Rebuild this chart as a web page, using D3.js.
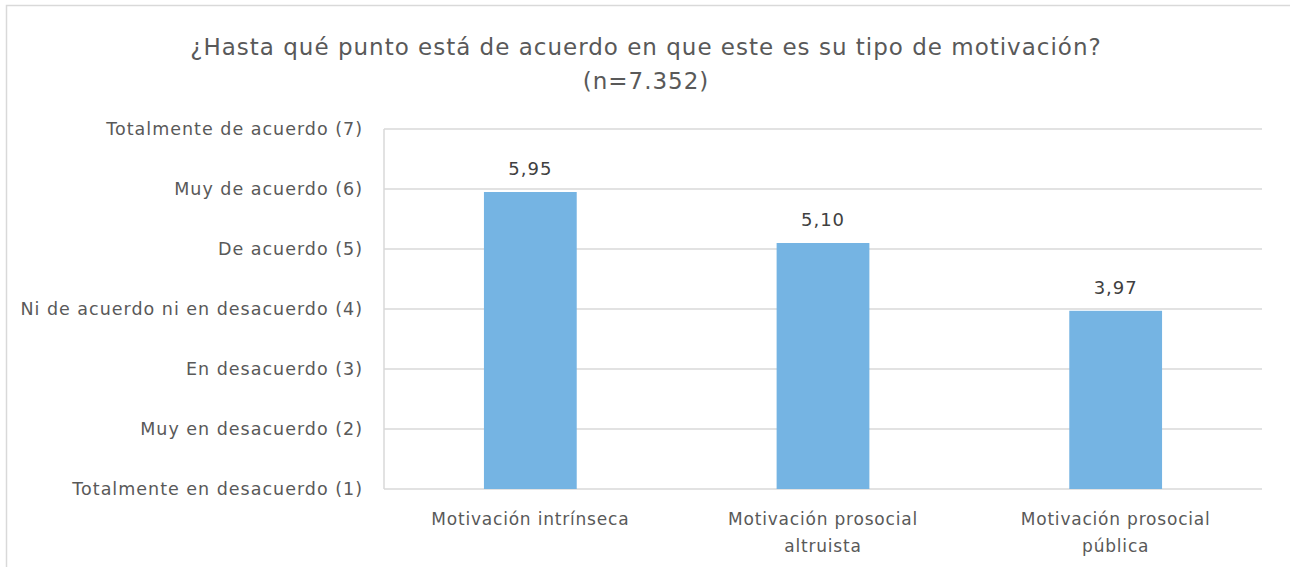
<!DOCTYPE html>
<html lang="es">
<head>
<meta charset="UTF-8">
<title>Tipo de motivación</title>
<script src="https://d3js.org/d3.v7.min.js"></script>
<style>
    body { margin: 0; background: #fff; }
    text { font-family: "DejaVu Sans", sans-serif; fill: #595959; }
    .grid line { stroke: #d9d9d9; stroke-width: 1.5; }
</style>
</head>
<body>
<script>
    const width = 1290;
    const height = 567;

    const categories = [["Motivación intrínseca"], ["Motivación prosocial", "altruista"], ["Motivación prosocial", "pública"]];
    const values = [5.95, 5.10, 3.97];
    const levelLabels = ["Totalmente en desacuerdo (1)", "Muy en desacuerdo (2)", "En desacuerdo (3)",
        "Ni de acuerdo ni en desacuerdo (4)", "De acuerdo (5)", "Muy de acuerdo (6)", "Totalmente de acuerdo (7)"];
    const levels = [1, 2, 3, 4, 5, 6, 7];
    const titleLines = ["¿Hasta qué punto está de acuerdo en que este es su tipo de motivación?", "(n=7.352)"];

    const margin = {left: 384, right: 28, top: 129, bottom: 78};

    const svg = d3.select("body").append("svg")
        .attr("width", width).attr("height", height);

    // chart border
    svg.append("rect")
        .attr("x", 6.5).attr("y", 5.5)
        .attr("width", width).attr("height", height)
        .attr("fill", "none").attr("stroke", "#d9d9d9").attr("stroke-width", 1.5);

    const x = d3.scaleBand()
        .domain(d3.range(categories.length))
        .range([margin.left, width - margin.right])
        .paddingInner(0.683).paddingOuter(0.3415);

    const y = d3.scaleLinear()
        .domain([1, 7])
        .range([height - margin.bottom, margin.top]);

    // gridlines
    svg.append("g").attr("class", "grid")
        .selectAll("line").data(levels).enter()
        .append("line")
        .attr("x1", margin.left).attr("x2", width - margin.right)
        .attr("y1", d => y(d)).attr("y2", d => y(d));

    // left axis line
    svg.append("line")
        .attr("x1", margin.left).attr("x2", margin.left)
        .attr("y1", y(7)).attr("y2", y(1))
        .attr("stroke", "#d9d9d9").attr("stroke-width", 1.5);

    // y labels
    svg.append("g")
        .selectAll("text").data(levels).enter()
        .append("text")
        .attr("x", margin.left - 21)
        .attr("y", d => y(d))
        .attr("dy", "0.35em")
        .attr("text-anchor", "end")
        .style("font-size", "17.5px")
        .style("letter-spacing", "1px")
        .text((d, i) => levelLabels[i]);

    // bars
    svg.append("g")
        .selectAll("rect").data(values).enter()
        .append("rect")
        .attr("x", (d, i) => x(i))
        .attr("width", x.bandwidth())
        .attr("y", d => y(d))
        .attr("height", d => y(1) - y(d))
        .attr("fill", "#75b4e3");

    // value labels
    svg.append("g")
        .selectAll("text").data(values).enter()
        .append("text")
        .attr("x", (d, i) => x(i) + x.bandwidth() / 2)
        .attr("y", d => y(d) - 17)
        .attr("text-anchor", "middle")
        .style("font-size", "18px")
        .style("letter-spacing", "1px")
        .style("fill", "#404040")
        .text(d => d.toFixed(2).replace(".", ","));

    // category labels
    const cat = svg.append("g")
        .selectAll("text").data(categories).enter()
        .append("text")
        .attr("text-anchor", "middle")
        .style("font-size", "17px")
        .style("letter-spacing", "0.8px");
    cat.selectAll("tspan").data((d, i) => d.map(t => ({t, i}))).enter()
        .append("tspan")
        .attr("x", d => x(d.i) + x.bandwidth() / 2)
        .attr("y", (d, j) => 525 + j * 27)
        .text(d => d.t);

    // title
    svg.append("g")
        .selectAll("text").data(titleLines).enter()
        .append("text")
        .attr("x", 646)
        .attr("y", (d, i) => 55 + i * 34)
        .attr("text-anchor", "middle")
        .style("font-size", "23px")
        .style("letter-spacing", "1px")
        .text(d => d);
</script>
</body>
</html>
